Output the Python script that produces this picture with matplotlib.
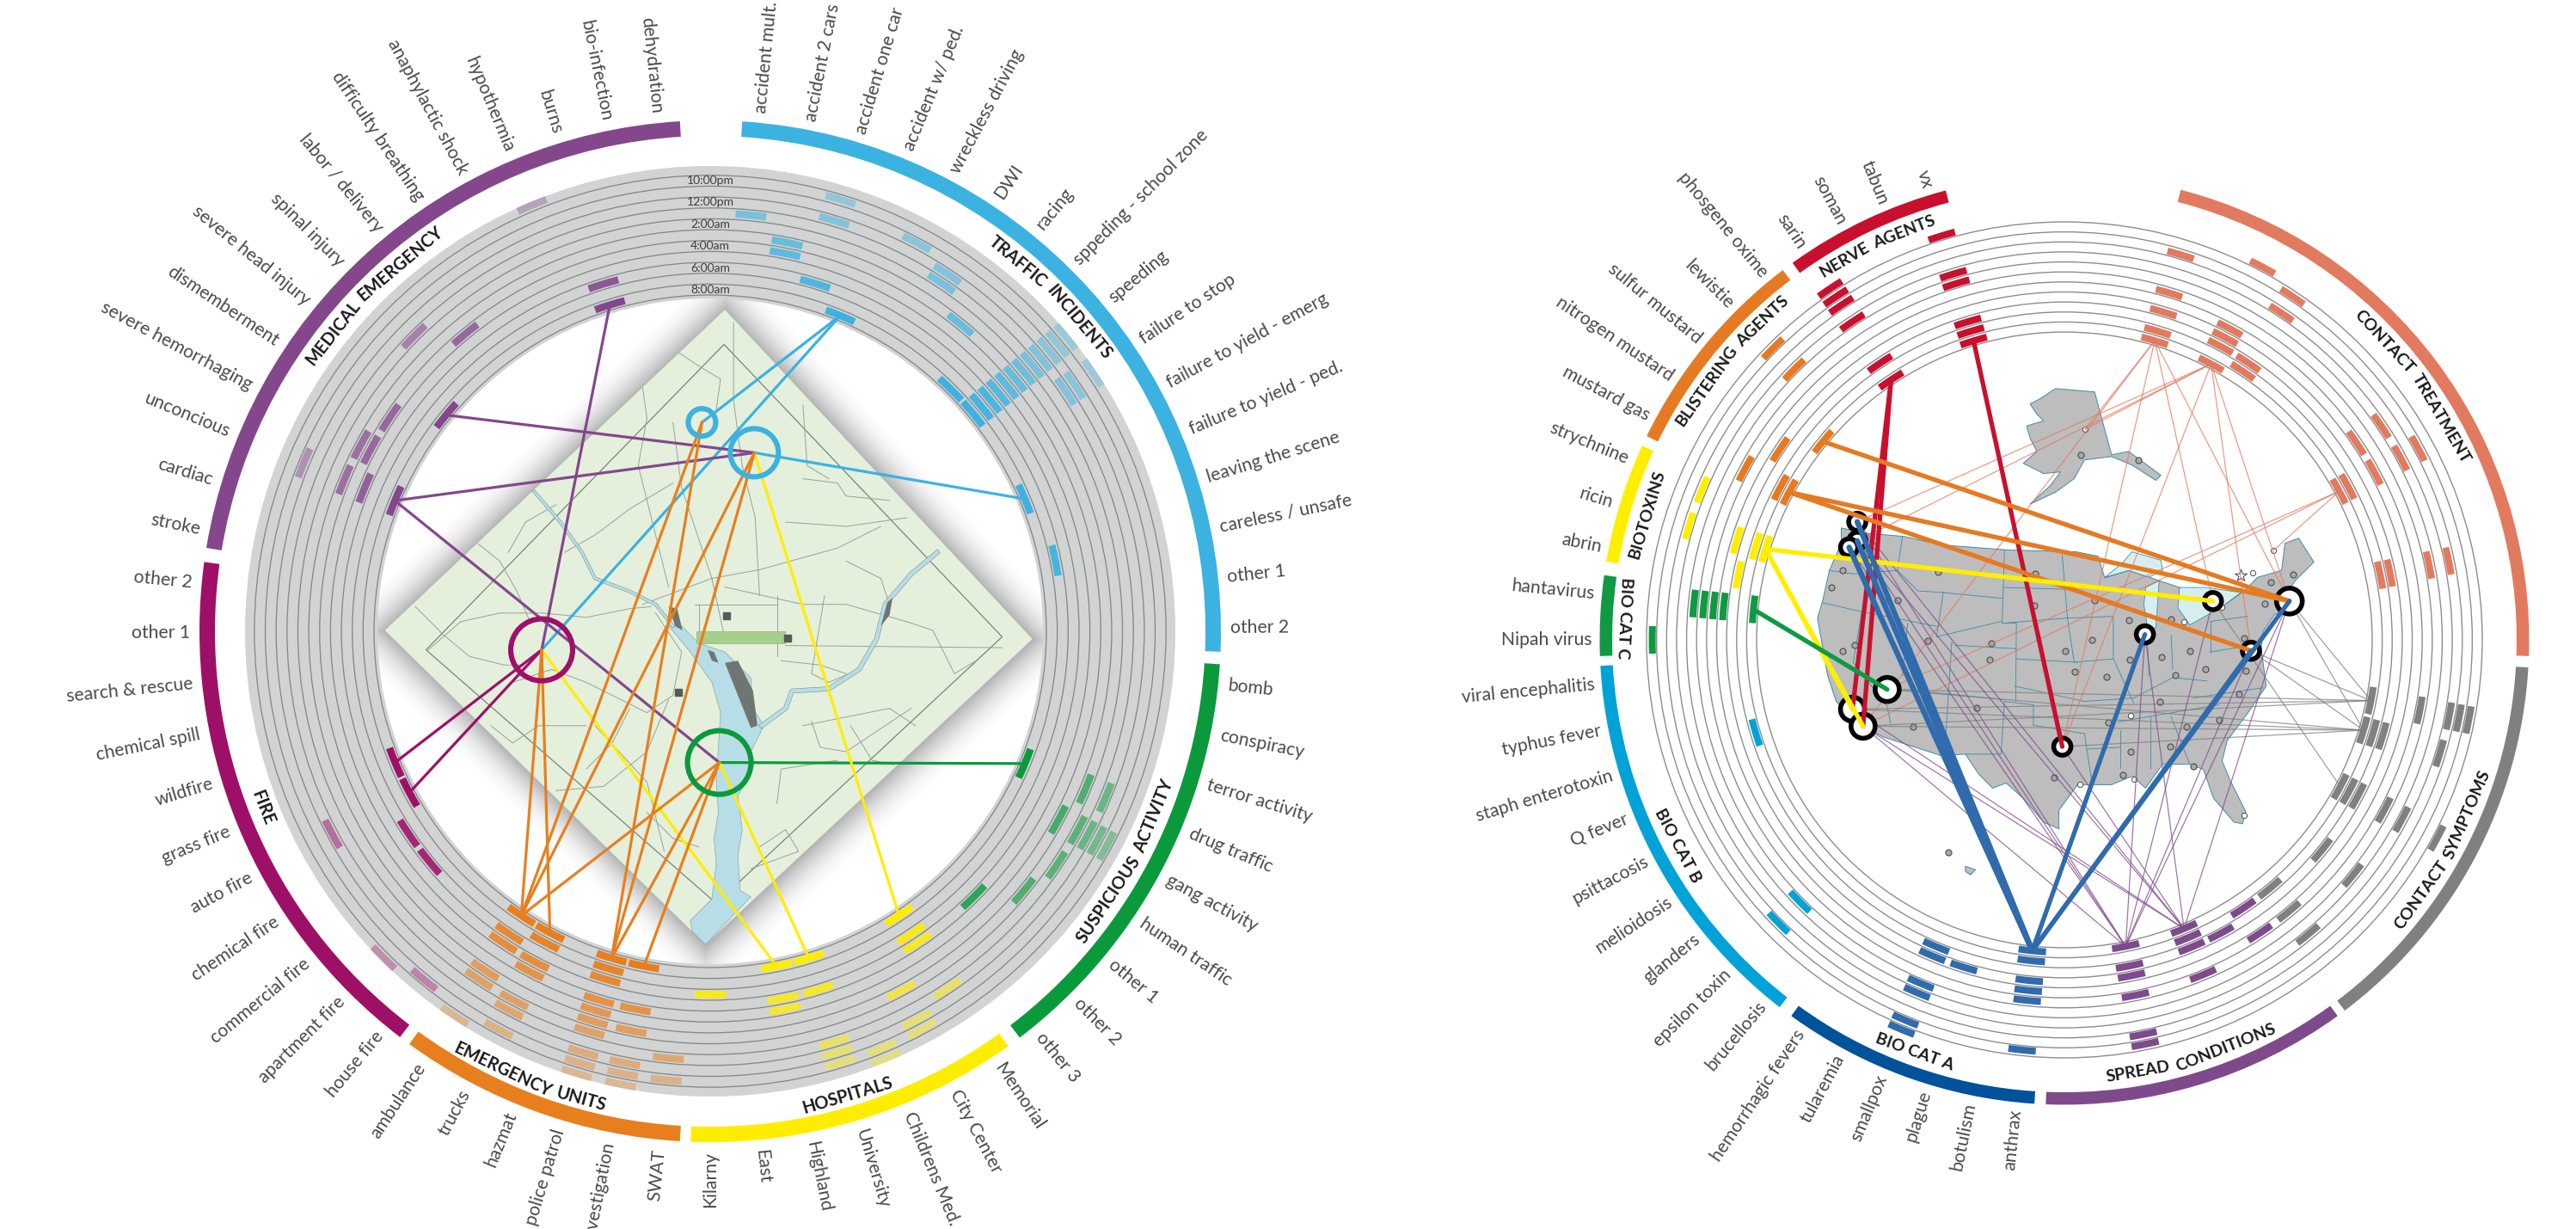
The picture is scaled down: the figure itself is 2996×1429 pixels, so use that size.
import numpy as np
import matplotlib
matplotlib.use("Agg")
import matplotlib.pyplot as plt
from matplotlib.patches import Wedge, Circle, Polygon

plt.rcParams['font.family'] = ['Lato', 'DejaVu Sans']

### left wheel : local incidents
# group -> band start, band end, first slot angle, colour, title, title angle, title radius, tops inward
L_GROUPS = {
    'traffic':    (3.6, 92.3, 5.6, '#3cb2e0', 'TRAFFIC INCIDENTS', 45.6, 559, False),
    'suspicious': (93.7, 142.7, 96.0, '#0a9a3c', 'SUSPICIOUS ACTIVITY', 119, 559, True),
    'hospitals':  (144.3, 182.2, 146.4, '#ffed00', 'HOSPITALS', 163.5, 563, True),
    'emergency':  (183.4, 216.1, 185.6, '#e87f1e', 'EMERGENCY UNITS', 202, 564, True),
    'fire':       (217.4, 277.8, 219.4, '#9e1068', 'FIRE', 248.5, 559, True),
    'medical':    (279.4, 356.6, 281.3, '#84478c', 'MEDICAL EMERGENCY', 315, 559, False),
}
L_LABELS = {
    'traffic': ['accident mult.', 'accident 2 cars', 'accident one car', 'accident w/ ped.', 'wreckless driving',
                'DWI', 'racing', 'sppeding - school zone', 'speeding', 'failure to stop', 'failure to yield - emerg',
                'failure to yield - ped.', 'leaving the scene', 'careless / unsafe', 'other 1', 'other 2'],
    'suspicious': ['bomb', 'conspiracy', 'terror activity', 'drug traffic', 'gang activity', 'human traffic',
                   'other 1', 'other 2', 'other 3'],
    'hospitals': ['Memorial', 'City Center', 'Childrens Med.', 'University', 'Highland', 'East', 'Kilarny'],
    'emergency': ['SWAT', 'investigation', 'police patrol', 'hazmat', 'trucks', 'ambulance'],
    'fire': ['house fire', 'apartment fire', 'commercial fire', 'chemical fire', 'auto fire', 'grass fire',
             'wildfire', 'chemical spill', 'search & rescue', 'other 1', 'other 2'],
    'medical': ['stroke', 'cardiac', 'unconcious', 'severe hemorrhaging', 'dismemberment', 'severe head injury',
                'spinal injury', 'labor / delivery', 'difficulty breathing', 'anaphylactic shock', 'hypothermia',
                'burns', 'bio-infection', 'dehydration'],
}
# slot -> time rows (0 outer ... 11 inner)
L_MARKS = {
    'traffic': {0: [4], 1: [6, 7], 2: [1, 3, 9], 3: [11], 4: [2], 5: [3, 4], 6: [6], 7: [11],
                8: [0, 1, 2, 3, 4, 5, 6, 7, 8, 9, 10, 11], 9: [0, 2, 3], 11: [11], 13: [10]},
    'suspicious': {3: [11, 5, 3], 4: [6, 4, 3, 2, 1], 5: [4], 6: [5], 7: [8]},
    'hospitals': {0: [11, 9, 8, 3], 1: [5, 2, 1], 2: [1, 0], 3: [11, 8, 3, 2, 1], 4: [11, 8, 7], 6: [9]},
    'emergency': {0: [3, 1], 1: [11, 7, 5, 2, 1, 0], 2: [11, 10, 9, 7, 6, 5, 4, 2, 1, 0],
                  4: [11, 10, 8, 7, 4, 3, 1], 5: [11, 9, 8, 5, 4, 0]},
    'fire': {0: [1], 1: [0], 2: [9], 3: [9], 4: [11, 3], 5: [11]},
    'medical': {2: [11, 8, 6, 2], 3: [7, 6], 4: [7], 5: [11], 6: [4], 7: [7], 10: [0], 11: [9, 11]},
}
L_TIMES = ['10:00pm', '12:00pm', '2:00am', '4:00am', '6:00am', '8:00am']
L_TIME_ROWS = [1, 3, 5, 7, 9, 11]

# map locations, in map units (see m())
L_NODES = {
    'blue_small': (767, 300, 16, '#3cb2e0'),
    'blue_big': (888, 370, 28, '#3cb2e0'),
    'purple': (397, 825, 36, '#9e1068'),
    'green': (807, 1085, 37, '#0a9a3c'),
}
L_LINKS = [
    ('traffic', 3, 11, 'blue_small'), ('traffic', 3, 11, 'purple'), ('traffic', 11, 11, 'blue_big'),
    ('medical', 5, 11, 'blue_big'), ('medical', 2, 11, 'blue_big'), ('medical', 2, 11, 'green'),
    ('medical', 11, 11, 'purple'),
    ('fire', 4, 11, 'purple'), ('fire', 5, 11, 'purple'),
    ('suspicious', 3, 11, 'green'),
    ('hospitals', 0, 11, 'blue_big'), ('hospitals', 3, 11, 'green'), ('hospitals', 4, 11, 'purple'),
    ('emergency', 5, 11, 'purple'), ('emergency', 5, 11, 'blue_small'), ('emergency', 5, 11, 'blue_big'),
    ('emergency', 5, 11, 'green'), ('emergency', 4, 11, 'purple'),
    ('emergency', 2, 11, 'blue_small'), ('emergency', 2, 11, 'blue_big'), ('emergency', 2, 11, 'green'),
    ('emergency', 1, 11, 'green'),
]

DC_OUTLINE = [(820, 40), (1530, 800), (775, 1505), (35, 780)]
DC_BORDER = [(818, 120), (1460, 795), (800, 1410), (130, 825)]
DC_ROADS = [
    [(105, 725), (170, 790), (230, 840), (310, 860), (350, 860)],
    [(135, 825), (210, 760), (300, 740), (400, 740), (500, 750), (600, 730), (650, 725)],
    [(250, 580), (300, 620), (340, 690), (370, 760)],
    [(320, 600), (360, 530), (430, 490)],
    [(630, 220), (640, 290), (620, 400), (660, 560), (690, 680)],
    [(715, 140), (760, 170), (810, 200), (800, 270)],
    [(840, 70), (840, 250), (860, 400), (890, 520), (900, 700)],
    [(630, 720), (790, 660), (900, 640), (1080, 590), (1180, 540)],
    [(750, 720), (940, 720)], [(940, 700), (940, 840)], [(760, 720), (760, 790)],
    [(820, 680), (1000, 720), (1100, 720), (1240, 760)],
    [(960, 815), (1460, 820)],
    [(950, 850), (1040, 860), (1100, 880)],
    [(1000, 430), (1080, 440), (1100, 470), (1200, 480)],
    [(960, 530), (1100, 540), (1240, 520)],
    [(1240, 760), (1300, 780), (1350, 880), (1400, 850)],
    [(1000, 1000), (1100, 980), (1200, 960), (1260, 1000)],
    [(1080, 1080), (950, 1100), (940, 1180)],
    [(1020, 990), (1040, 1050), (1100, 1060), (1250, 960)],
    [(660, 740), (720, 830), (700, 930), (640, 970), (500, 900), (420, 870), (330, 900)],
    [(430, 1150), (540, 1140), (640, 1060), (690, 940)],
    [(280, 1000), (330, 1040), (390, 1000), (500, 1000)],
    [(640, 1200), (700, 1260), (760, 1280)],
    [(900, 1280), (960, 1240), (990, 1290), (880, 1330)],
    [(500, 1100), (560, 1040), (600, 960)],
    [(1100, 620), (1180, 660), (1200, 720)],
    [(1110, 1000), (1160, 1080), (1210, 1090)],
    [(450, 600), (520, 560), (600, 500), (700, 440)],
    [(700, 300), (720, 450), (790, 660), (820, 800)],
    [(1000, 260), (1010, 400), (1060, 430)],
    [(520, 1000), (640, 1130), (680, 1290)],
    [(1050, 700), (1020, 880), (1060, 900), (1130, 870)],
]
DC_RIVER_MAIN = [(690, 770), (740, 830), (790, 900), (810, 970), (805, 1050), (800, 1130), (805, 1200), (795, 1260),
                 (800, 1320), (790, 1400), (740, 1450), (745, 1475), (775, 1505), (880, 1395), (855, 1380), (850, 1300),
                 (860, 1240), (850, 1160), (870, 1130), (880, 1060), (910, 1000), (885, 960), (880, 890), (820, 830),
                 (760, 810), (720, 770)]
DC_RIVER_UP = [(380, 460), (440, 530), (490, 600), (520, 660), (600, 690), (660, 720), (700, 770)]
DC_RIVER_EAST = [(905, 1000), (960, 960), (975, 920), (1060, 915), (1130, 870), (1170, 800), (1190, 720), (1250, 650),
                 (1310, 600)]
DC_ISLANDS = [[(820, 855), (850, 850), (885, 920), (895, 1000), (880, 1005), (850, 930)],
              [(690, 725), (710, 730), (722, 780), (705, 770)],
              [(780, 825), (795, 830), (805, 855), (790, 850)],
              [(1180, 770), (1195, 715), (1207, 705), (1200, 745)]]
DC_MALL = [(755, 783), (958, 783), (958, 810), (755, 810)]
DC_SQUARES = [(823, 746), (965, 798), (713, 923)]

### right wheel : national threats
R_GROUPS = {
    'treatment': (14.5, 92.0, 16.8, '#e27a5f', 'CONTACT TREATMENT', 54, 508, False),
    'symptoms':  (93.4, 142.9, 95.6, '#808080', 'CONTACT SYMPTOMS', 119, 510, True),
    'spread':    (144.0, 182.3, 146.3, '#7f4a8b', 'SPREAD CONDITIONS', 163, 510, True),
    'cat_a':     (183.7, 216.0, 185.9, '#00529b', 'BIO CAT A', 200, 510, True),
    'cat_b':     (217.8, 266.8, 219.7, '#00a2d8', 'BIO CAT B', 242, 510, True),
    'cat_c':     (268.0, 278.0, 270.0, '#0e9a43', 'BIO CAT C', 272.8, 512, True),
    'biotoxins': (279.7, 294.7, 281.3, '#ffee00', 'BIOTOXINS', 286.7, 507, False),
    'blister':   (296.0, 322.7, 298.2, '#e57a22', 'BLISTERING AGENTS', 310, 510, False),
    'nerve':     (324.2, 345.2, 326.3, '#c8102e', 'NERVE AGENTS', 334.6, 510, False),
}
R_LABELS = {
    'nerve': ['sarin', 'soman', 'tabun', 'vx'],
    'blister': ['mustard gas', 'nitrogen mustard', 'sulfur mustard', 'lewistie', 'phosgene oxime'],
    'biotoxins': ['abrin', 'ricin', 'strychnine'],
    'cat_c': ['Nipah virus', 'hantavirus'],
    'cat_b': ['brucellosis', 'epsilon toxin', 'glanders', 'melioidosis', 'psittacosis', 'Q fever',
              'staph enterotoxin', 'typhus fever', 'viral encephalitis'],
    'cat_a': ['anthrax', 'botulism', 'plague', 'smallpox', 'tularemia', 'hemorrhagic fevers'],
}
R_MARKS = {
    'nerve': {0: [0, 1, 2, 4, 9, 11], 3: [0, 4, 5, 9, 10, 11]},
    'blister': {0: [6, 10, 11], 1: [8], 2: [11], 3: [1, 4]},
    'biotoxins': {0: [9], 1: [3, 8, 10, 11], 2: [3]},
    'cat_c': {0: [1], 1: [5, 6, 7, 8, 11]},
    'cat_b': {1: [5, 2], 6: [10]},
    'cat_a': {0: [11, 10, 8, 7, 6, 1], 2: [8], 3: [9, 8, 5, 4, 1, 0]},
    'spread': {0: [10, 7], 1: [9], 2: [11, 10, 9, 6], 4: [11, 9, 8, 6, 2, 1]},
    'symptoms': {1: [11, 6, 3, 2, 1], 2: [11, 10, 9, 3], 4: [11, 10, 9, 6, 4, 0], 6: [9, 5], 8: [10, 7, 4]},
    'treatment': {0: [2, 6, 8, 10, 11], 2: [0, 7, 8, 9, 11], 3: [1, 3, 9, 10], 7: [4, 7],
                  8: [2, 4, 7, 10, 11], 11: [3, 5, 9, 10]},
}
# city rings, in map units (see u()): x, y, radius
R_NODES = {
    'seattle1': (152, 447, 10), 'seattle2': (152, 503, 10), 'seattle3': (128, 522, 10),
    'cal1': (240, 940, 14), 'cal2': (138, 998, 14), 'cal3': (169, 1048, 14),
    'stlouis': (998, 778, 10), 'cleveland': (1198, 680, 10), 'newyork': (1423, 680, 15),
    'dc': (1310, 826, 10), 'dallas': (755, 1108, 10),
}
R_THICK = [
    ('nerve', 0, 11, 'cal2'), ('nerve', 0, 11, 'cal3'), ('nerve', 3, 11, 'dallas'),
    ('blister', 2, 11, 'newyork'), ('blister', 0, 11, 'newyork'), ('blister', 0, 11, 'dc'),
    ('biotoxins', 1, 11, 'cleveland'), ('biotoxins', 1, 11, 'cal2'), ('biotoxins', 1, 11, 'cal3'),
    ('cat_c', 1, 11, 'cal1'),
    ('cat_a', 0, 11, 'seattle1'), ('cat_a', 0, 11, 'seattle2'), ('cat_a', 0, 11, 'seattle3'),
    ('cat_a', 0, 11, 'stlouis'), ('cat_a', 0, 11, 'dc'), ('cat_a', 0, 11, 'newyork'),
]
R_THIN = [
    ('treatment', 0, 11, ['alaska', 'cal3', 'dallas', 'newyork', 'cleveland']),
    ('treatment', 2, 11, ['alaska', 'seattle1', 'seattle2', 'newyork', 'dc', 'dallas']),
    ('treatment', 8, 11, ['maine', 'cal1', 'cal3']),
    ('symptoms', 1, 11, ['newyork', 'dc', 'cal1', 'cal2', 'cal3']),
    ('symptoms', 2, 11, ['newyork', 'dc', 'cal1', 'cal2', 'cal3', 'dallas']),
    ('symptoms', 4, 11, ['cleveland']),
    ('spread', 4, 11, ['seattle1', 'seattle2', 'seattle3', 'cal3', 'stlouis', 'newyork', 'dc', 'cleveland']),
    ('spread', 2, 11, ['seattle1', 'seattle2', 'cal3', 'cal2', 'stlouis', 'newyork', 'dallas']),
]
R_THIN_EXTRA = {'alaska': (822, 175), 'maine': (1377, 530)}
US_OUTLINE = [(105, 465), (175, 480), (290, 490), (400, 515), (600, 530), (795, 535), (860, 548), (880, 612), (950, 590),
              (1040, 620), (1100, 640), (1100, 700), (1130, 745), (1220, 700), (1290, 650), (1330, 610), (1400, 590),
              (1410, 510), (1450, 495), (1495, 565), (1440, 620), (1415, 660), (1450, 690), (1380, 720), (1345, 770),
              (1340, 820), (1355, 930), (1300, 1010), (1240, 1090), (1225, 1150), (1250, 1210), (1295, 1300),
              (1285, 1335), (1260, 1330), (1200, 1260), (1170, 1175), (1130, 1160), (1050, 1160), (1000, 1230),
              (960, 1195), (900, 1220), (800, 1220), (745, 1295), (745, 1350), (700, 1330), (640, 1260), (590, 1215),
              (550, 1230), (510, 1190), (470, 1130), (400, 1135), (230, 1080), (190, 1060), (150, 1040), (90, 975),
              (65, 900), (35, 730), (50, 680), (70, 590), (105, 510)]
ALASKA = [(660, 100), (690, 85), (735, 55), (850, 65), (900, 250), (950, 240), (1045, 310), (1030, 325), (960, 280),
          (900, 255), (820, 265), (790, 320), (735, 360), (660, 395), (720, 340), (750, 300), (700, 305), (650, 280),
          (640, 275), (680, 240), (660, 200), (650, 165), (700, 150), (680, 130)]
HAWAII = [(470, 1460), (500, 1470), (485, 1485), (470, 1475)]
LAKES = [[(880, 610), (930, 570), (960, 535), (1045, 560), (1050, 590), (1010, 610), (950, 590)],
         [(995, 690), (1000, 640), (1040, 620), (1030, 760), (1005, 755)],
         [(1100, 640), (1180, 640), (1280, 655), (1220, 700), (1130, 750), (1095, 700)]]
US_STATES = [
    [(68, 590), (140, 600), (270, 590)], [(50, 685), (160, 710), (390, 755)], [(165, 712), (140, 860), (240, 990), (250, 1040)],
    [(285, 490), (270, 590), (330, 650), (405, 655)], [(405, 655), (580, 672)], [(405, 655), (385, 785), (575, 740)],
    [(585, 640), (760, 645)], [(580, 745), (770, 730)], [(620, 850), (800, 860)], [(615, 930), (820, 975)],
    [(585, 530), (578, 745), (620, 745), (618, 975)], [(755, 545), (770, 730), (790, 860)], [(770, 730), (905, 725), (905, 850)],
    [(790, 860), (905, 850), (965, 980)], [(820, 975), (965, 965)], [(585, 975), (670, 985), (670, 1045), (820, 1070)],
    [(820, 1070), (840, 1200)], [(830, 1115), (925, 1110)], [(925, 1060), (925, 1170)], [(1015, 1020), (1015, 1170)],
    [(1075, 1020), (1130, 1160)], [(920, 1035), (1215, 985)], [(965, 965), (1080, 905), (1180, 915)], [(1005, 780), (1010, 900)],
    [(1075, 780), (1080, 880)], [(1190, 740), (1300, 725)], [(1190, 830), (1310, 810)], [(1140, 965), (1345, 935)],
    [(430, 800), (410, 1110)], [(300, 745), (285, 900)], [(290, 940), (585, 970)], [(440, 810), (620, 820)],
    [(585, 975), (575, 1130), (470, 1130)], [(1190, 740), (1190, 830)],
]
CITIES = [(110, 590), (75, 640), (390, 595), (675, 600), (270, 677), (672, 693), (850, 677), (950, 737), (1075, 733),
          (143, 810), (108, 827), (360, 797), (547, 804), (540, 853), (765, 827), (843, 795), (953, 852), (1047, 845),
          (1130, 827), (792, 888), (885, 902), (1088, 897), (1175, 880), (1350, 688), (1367, 625), (1435, 603),
          (1290, 790), (1295, 885), (1275, 953), (1043, 975), (503, 995), (315, 1050), (890, 1037), (1120, 1050),
          (1217, 1030), (957, 1122), (1072, 1107), (1140, 1167), (932, 1190), (730, 1198), (420, 1420), (978, 265), (810, 250)]
CITIES_WHITE = [(822, 175), (1377, 530), (1315, 598), (1290, 1310), (808, 1220), (955, 1017), (967, 1203), (1113, 742), (1225, 697)]
CAPITAL_STAR = (1280, 605)


def m(p):
    return (430 + p[0] / 1.985, 340 + p[1] / 1.985)

def u(p):
    return (2100 + p[0] / 2.529, 430 + p[1] / 2.529)

def polar(c, r, a):
    t = np.deg2rad(a)
    return (c[0] + r * np.sin(t), c[1] - r * np.cos(t))


fig = plt.figure(figsize=(29.96, 14.29), dpi=100)
ax = fig.add_axes([0, 0, 1, 1])
ax.set_xlim(0, 2996)
ax.set_ylim(1429, 0)
ax.axis('off')
renderer = fig.canvas.get_renderer()


def arc(c, r_out, a0, a1, width, color, alpha=1, z=3):
    ax.add_patch(Wedge(c, r_out, a0 - 90, a1 - 90, width=width, fc=color, ec='none', alpha=alpha, zorder=z))

def text_width(s, size):
    t = ax.text(0, 0, s, fontsize=size, fontweight='bold')
    w = t.get_window_extent(renderer).width
    t.remove()
    return w

def title(c, text, a, r, inward, size):
    # two long words sit on the arc one by one, so they follow the curve
    words = text.split(' ') if len(text) > 10 else [text]
    gap = text_width('n', size) * 0.55
    widths = [text_width(w, size) for w in words]
    total = sum(widths) + gap * (len(words) - 1)
    pos = -total / 2
    for w, wd in zip(words, widths):
        off = np.rad2deg((pos + wd / 2) / r)
        aa = a - off if inward else a + off
        rot = 180 - aa if inward else -aa
        x, y = polar(c, r, aa)
        ax.text(x, y, w, fontsize=size, fontweight='bold', color='#1a1a1a', rotation=rot, rotation_mode='anchor',
                ha='center', va='center', zorder=8)
        pos += wd + gap

def radial_label(c, r, a, s, size):
    x, y = polar(c, r, a)
    if a < 180:
        ax.text(x, y, s, fontsize=size, color='#4a4a4a', rotation=90 - a, rotation_mode='anchor', ha='left', va='center')
    else:
        ax.text(x, y, s, fontsize=size, color='#4a4a4a', rotation=270 - a, rotation_mode='anchor', ha='right', va='center')

def mark_angle(groups, g, slot):
    return groups[g][2] + slot * 5.6


### left wheel
LC = (826, 734)
L_ROW = lambda k: 537 - 12.73 * k

# soft shadow under the map, then the map itself
dc_px = np.array([m(p) for p in DC_OUTLINE])
gx, gy = np.meshgrid(np.arange(380, 1270), np.arange(300, 1170))
dist = np.full(gx.shape, -1e9)
for i in range(4):
    p0, p1 = dc_px[i], dc_px[(i + 1) % 4]
    e = p1 - p0
    n = np.array([e[1], -e[0]]) / np.hypot(*e)
    dist = np.maximum(dist, (gx - p0[0]) * n[0] + (gy - p0[1]) * n[1])
shade = np.clip(1 - dist / 48, 0, 1) ** 2 * 0.5
rgba = np.zeros(gx.shape + (4,))
rgba[..., :3] = 0.4
rgba[..., 3] = shade
ax.imshow(rgba, extent=(380, 1270, 1170, 300), zorder=0.5, interpolation='bilinear', aspect='auto')
ax.set_xlim(0, 2996)
ax.set_ylim(1429, 0)

ax.add_patch(Polygon(dc_px, closed=True, fc='#e4f0dc', ec='none', zorder=1))
ax.add_patch(Polygon([m(p) for p in DC_BORDER], closed=True, fc='none', ec='#7d817c', lw=0.9, zorder=1.2))
for road in DC_ROADS:
    pts = np.array([m(p) for p in road])
    ax.plot(pts[:, 0], pts[:, 1], color='#9a9f99', lw=0.7, zorder=1.2)
ax.add_patch(Polygon([m(p) for p in DC_RIVER_MAIN], closed=True, fc='#b7dee6', ec='#8aa5a8', lw=0.5, zorder=1.3))
for river, wd in ((DC_RIVER_UP, 2.0), (DC_RIVER_EAST, 3.2)):
    pts = np.array([m(p) for p in river])
    ax.plot(pts[:, 0], pts[:, 1], color='#7d8f90', lw=wd + 0.8, zorder=1.3)
    ax.plot(pts[:, 0], pts[:, 1], color='#b7dee6', lw=wd, zorder=1.35)
for isl in DC_ISLANDS:
    ax.add_patch(Polygon([m(p) for p in isl], closed=True, fc='#6f7572', ec='none', zorder=1.4))
ax.add_patch(Polygon([m(p) for p in DC_MALL], closed=True, fc='#a5cf8b', ec='#8aa87a', lw=0.4, zorder=1.4))
sq = np.array([m(p) for p in DC_SQUARES])
ax.scatter(sq[:, 0], sq[:, 1], marker='s', s=36, color='#555a58', zorder=1.4)

ax.add_patch(Wedge(LC, 541, 0, 360, width=154, fc='#d2d4d4', ec='none', zorder=2))
for j in range(12):
    ax.add_patch(Circle(LC, 391 + 12.65 * j, fc='none', ec='#84888a', lw=0.95, zorder=2.1))

for g, (a0, a1, first, col, ttl, ta, tr, inward) in L_GROUPS.items():
    arc(LC, 594, a0, a1, 18, col)
    title(LC, ttl, ta, tr, inward, 14.5)
    for i, s in enumerate(L_LABELS[g]):
        radial_label(LC, 605, first + i * 5.6, s, 15.2)
    for slot, rows in L_MARKS[g].items():
        a = mark_angle(L_GROUPS, g, slot)
        for k in rows:
            r = L_ROW(k)
            da = np.rad2deg(36 / r) / 2
            alpha = 0.35 + 0.65 * k / 11
            arc(LC, r + 4.2, a - da, a + da, 8.4, col, alpha=alpha, z=2.5)

for lab, k in zip(L_TIMES, L_TIME_ROWS):
    ax.text(LC[0], LC[1] - L_ROW(k), lab, fontsize=10, color='#3c3c3c', ha='center', va='center', zorder=2.4)

for name, (x, y, r, col) in L_NODES.items():
    ax.add_patch(Circle(m((x, y)), r, fc='none', ec=col, lw=4.4, zorder=6))
for g, slot, k, node in L_LINKS:
    a = mark_angle(L_GROUPS, g, slot)
    p0 = polar(LC, L_ROW(k), a)
    p1 = m(L_NODES[node][:2])
    ax.plot([p0[0], p1[0]], [p0[1], p1[1]], color=L_GROUPS[g][3], lw=2.3, zorder=5, solid_capstyle='round')

### right wheel
RC = (2401, 744)
R_ROW = lambda k: 491 - 11.6 * k

ax.add_patch(Polygon([u(p) for p in US_OUTLINE], closed=True, fc='#bdbdbd', ec='#3f8aa8', lw=0.7, zorder=1))
ax.add_patch(Polygon([u(p) for p in ALASKA], closed=True, fc='#bdbdbd', ec='#3f8aa8', lw=0.7, zorder=1))
ax.add_patch(Polygon([u(p) for p in HAWAII], closed=True, fc='#bdbdbd', ec='#3f8aa8', lw=0.7, zorder=1))
for lake in LAKES:
    ax.add_patch(Polygon([u(p) for p in lake], closed=True, fc='#d6efee', ec='#3f8aa8', lw=0.6, zorder=1.1))
for st in US_STATES:
    pts = np.array([u(p) for p in st])
    ax.plot(pts[:, 0], pts[:, 1], color='#3f8aa8', lw=0.6, zorder=1.2)
pts = np.array([u(p) for p in CITIES])
ax.scatter(pts[:, 0], pts[:, 1], s=26, fc='#a9a9a9', ec='#4a4a4a', lw=0.8, zorder=1.5)
pts = np.array([u(p) for p in CITIES_WHITE])
ax.scatter(pts[:, 0], pts[:, 1], s=20, fc='white', ec='#4a4a4a', lw=0.7, zorder=1.5)
px = u(CAPITAL_STAR)
ax.scatter([px[0]], [px[1]], s=110, marker='*', fc='white', ec='#555555', lw=0.8, zorder=1.5)

for j in range(12):
    ax.add_patch(Circle(RC, 486 - 11.64 * j, fc='none', ec='#8d8d8d', lw=1.0, zorder=2))

for g, (a0, a1, first, col, ttl, ta, tr, inward) in R_GROUPS.items():
    arc(RC, 540.5, a0, a1, 14.5, col)
    title(RC, ttl, ta, tr, inward, 14)
    for i, s in enumerate(R_LABELS.get(g, [])):
        radial_label(RC, 549, first + i * 5.6, s, 15.2)
    mark_col = {'cat_a': '#2f6bad'}.get(g, col)
    for slot, rows in R_MARKS[g].items():
        a = mark_angle(R_GROUPS, g, slot)
        for k in rows:
            r = R_ROW(k)
            da = np.rad2deg(32 / r) / 2
            arc(RC, r + 4, a - da, a + da, 8, mark_col, z=2.5)

def node_xy(name):
    if name in R_NODES:
        return u(R_NODES[name][:2])
    return u(R_THIN_EXTRA[name])

for g, slot, k, targets in R_THIN:
    a = mark_angle(R_GROUPS, g, slot)
    p0 = polar(RC, R_ROW(k), a)
    for name in targets:
        p1 = node_xy(name)
        ax.plot([p0[0], p1[0]], [p0[1], p1[1]], color=R_GROUPS[g][3], lw=0.9, alpha=0.75, zorder=3)

for name, (x, y, r) in R_NODES.items():
    ax.add_patch(Circle(u((x, y)), r, fc='white', ec='black', lw=4.0, zorder=6))
for g, slot, k, name in R_THICK:
    a = mark_angle(R_GROUPS, g, slot)
    p0 = polar(RC, R_ROW(k), a)
    p1 = node_xy(name)
    col = {'cat_a': '#2f6bad'}.get(g, R_GROUPS[g][3])
    wd = 4.6 if name.startswith('seattle') else 3.8
    ax.plot([p0[0], p1[0]], [p0[1], p1[1]], color=col, lw=wd, zorder=7, solid_capstyle='round')

fig.savefig('out.png', dpi=100, facecolor='white')
